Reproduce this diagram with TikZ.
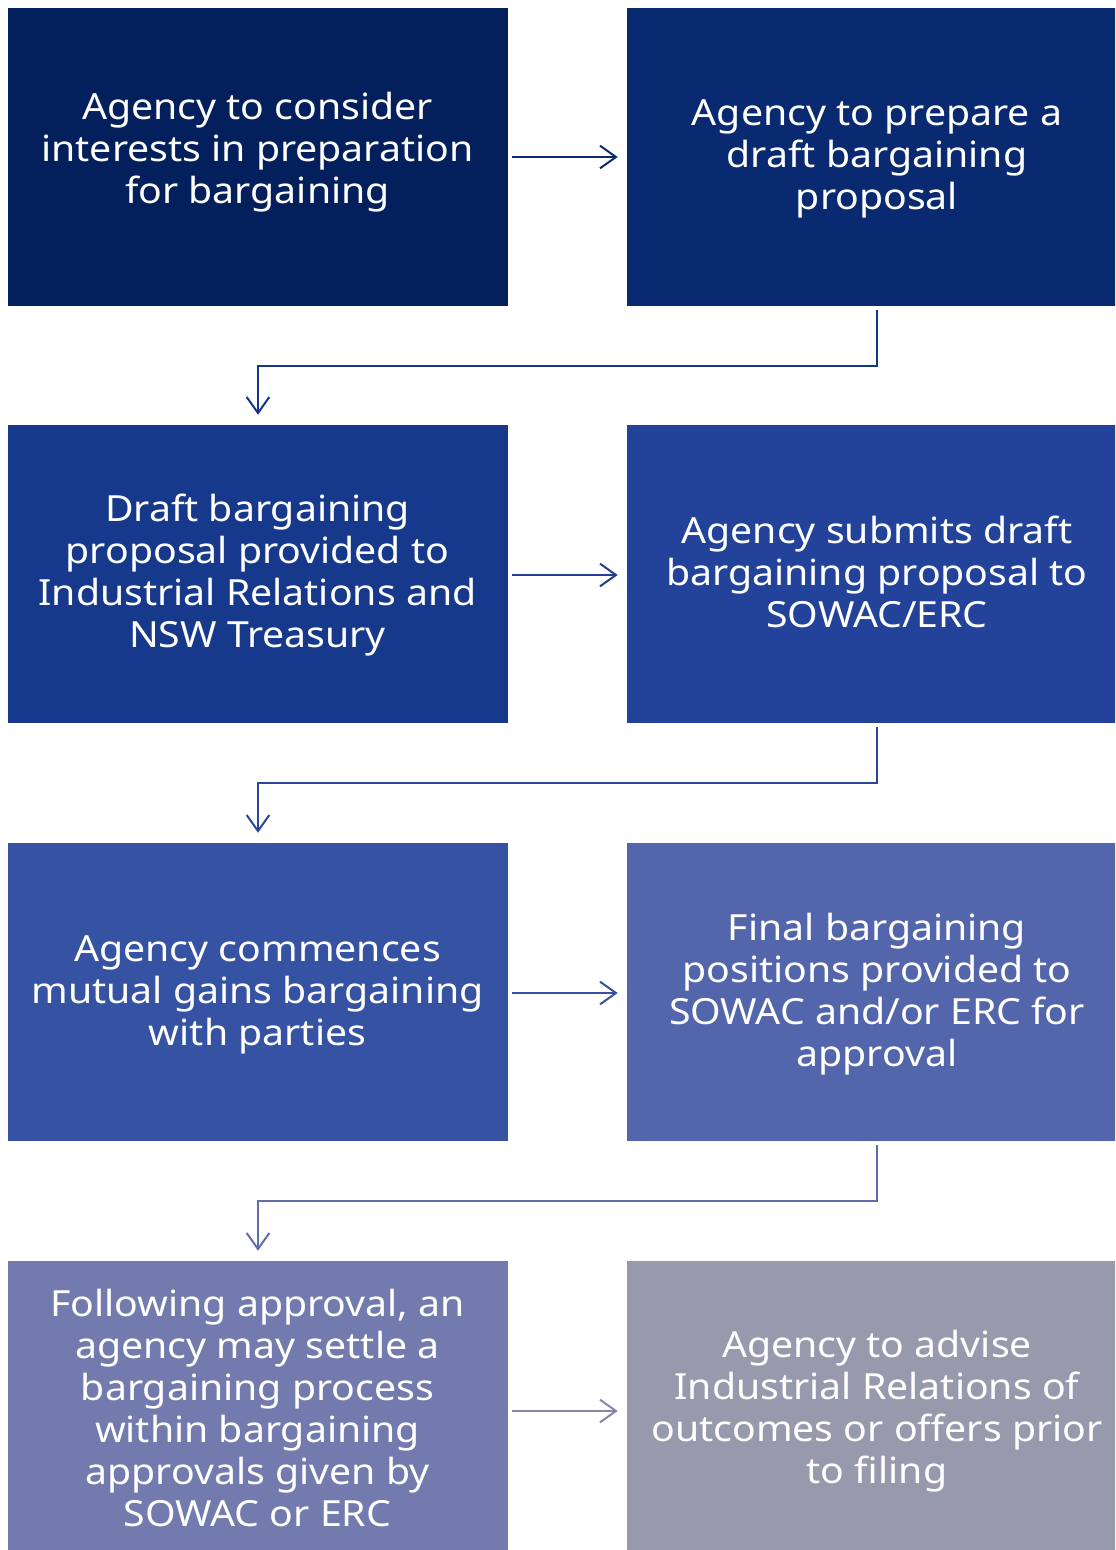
\documentclass[tikz,border=0pt]{standalone}
\usepackage{fontspec}
\setmainfont{Noto Sans}[FakeStretch=1.09]
\usetikzlibrary{arrows.meta,calc}
\definecolor{c1}{HTML}{04205C}
\definecolor{c2}{HTML}{092A70}
\definecolor{c3}{HTML}{17398C}
\definecolor{c4}{HTML}{23429A}
\definecolor{c5}{HTML}{3652A2}
\definecolor{c6}{HTML}{5365AB}
\definecolor{c7}{HTML}{737AAD}
\definecolor{c8}{HTML}{9799AC}
\definecolor{a1}{HTML}{0C2B6E}
\definecolor{k1}{HTML}{14368A}
\definecolor{a2}{HTML}{223F95}
\definecolor{k2}{HTML}{2A479B}
\definecolor{a3}{HTML}{3651A2}
\definecolor{k3}{HTML}{5E6DAC}
\definecolor{a4}{HTML}{8486AC}
\tikzset{
  box/.style={rectangle, minimum width=500*0.75pt, minimum height=298*0.75pt,
    inner sep=0pt, text=white, align=center, font=\fontsize{27}{31.5}\selectfont},
  arr/.style={line width=1.5pt, -{Straight Barb[length=12pt,width=17pt,line width=1.5pt]}}
}
\begin{document}
\begin{tikzpicture}[x=0.75pt,y=-0.75pt]
\useasboundingbox (0,0) rectangle (1115,1550);
\begin{scope}
\clip (0,0) rectangle (1115,1550);
\node[box, fill=c1] (b1) at (257.5,157) {};
\node[box, fill=c2] (b2) at (877,157) {};
\node[box, fill=c3] (b3) at (257.5,574) {};
\node[box, fill=c4] (b4) at (877,574) {};
\node[box, fill=c5] (b5) at (257.5,992) {};
\node[box, fill=c6] (b6) at (877,992) {};
\node[box, fill=c7] (b7) at (257.5,1410) {};
\node[box, fill=c8] (b8) at (877,1410) {};
\end{scope}
\node[box] (t1) at (257.5,152) {Agency to consider\\interests in preparation\\for bargaining};
\node[box] (t2) at (877,159) {Agency to prepare a\\draft bargaining\\proposal};
\node[box] (t3) at (257.5,575) {Draft bargaining\\proposal provided to\\Industrial Relations and\\NSW Treasury};
\node[box] (t4) at (877,572) {Agency submits draft\\bargaining proposal to\\SOWAC/ERC};
\node[box] (t5) at (257.5,995) {Agency commences\\mutual gains bargaining\\with parties};
\node[box] (t6) at (877,994) {Final bargaining\\positions provided to\\SOWAC and/or ERC for\\approval};
\node[box] (t7) at (257.5,1408) {Following approval, an\\agency may settle a\\bargaining process\\within bargaining\\approvals given by\\SOWAC or ERC};
\node[box] (t8) at (877,1411) {Agency to advise\\Industrial Relations of\\outcomes or offers prior\\to filing};
% horizontal arrows
\draw[arr, a1] ($(b1.east)+(4,0)$) -- ($(b2.west)+(-9,0)$);
\draw[arr, a2] ($(b3.east)+(4,1)$) -- ($(b4.west)+(-9,1)$);
\draw[arr, a3] ($(b5.east)+(4,1)$) -- ($(b6.west)+(-9,1)$);
\draw[arr, a4] ($(b7.east)+(4,1)$) -- ($(b8.west)+(-9,1)$);
% elbow connectors
\draw[arr, k1] ($(b2.south)+(0,4)$) -- ++(0,56) -| ($(b3.north)+(0.5,-10)$);
\draw[arr, k2] ($(b4.south)+(0,4)$) -- ++(0,56) -| ($(b5.north)+(0.5,-10)$);
\draw[arr, k3] ($(b6.south)+(0,4)$) -- ++(0,56) -| ($(b7.north)+(0.5,-10)$);
\end{tikzpicture}
\end{document}
